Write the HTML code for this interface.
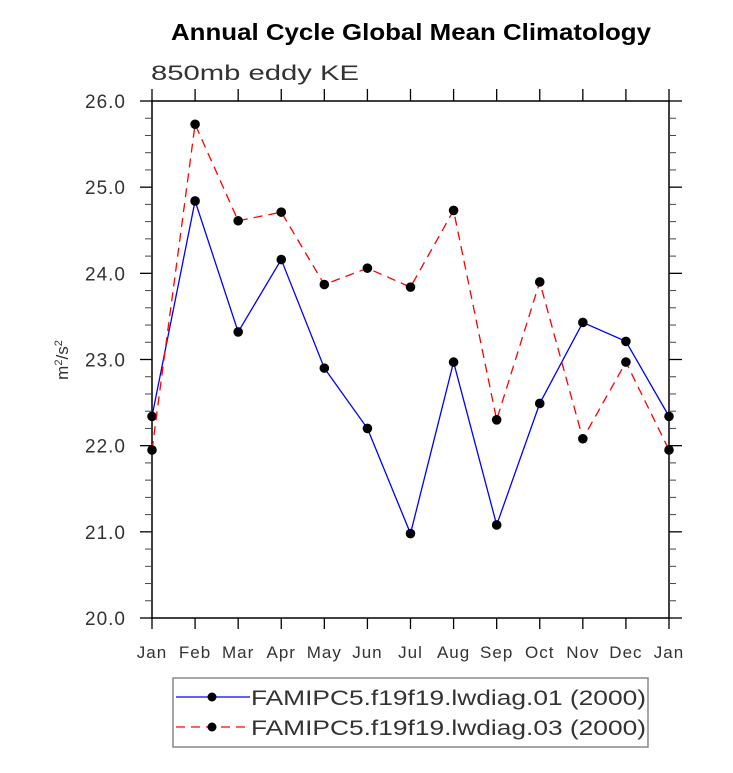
<!DOCTYPE html>
<html><head><meta charset="utf-8"><style>
body{margin:0;background:#fff;}
svg text{font-family:"Liberation Sans",sans-serif;}
</style></head><body>
<svg id="chart" width="733" height="768" xmlns="http://www.w3.org/2000/svg">
<text x="411" y="40" text-anchor="middle" font-size="23" font-weight="bold" textLength="480" lengthAdjust="spacingAndGlyphs">Annual Cycle Global Mean Climatology</text>
<text x="151" y="80" font-size="21" fill="#333" textLength="208" lengthAdjust="spacingAndGlyphs">850mb eddy KE</text>
<g id="axes"></g>
<g id="series"></g>
<g>
<rect x="173" y="678" width="475" height="69" fill="none" stroke="#888" stroke-width="1.5"/>
<g>
<line x1="176" y1="697" x2="250" y2="697" stroke="#0000ff" stroke-width="1.3"/>
<circle cx="212" cy="697" r="4.5" fill="#000"/>
<text x="251" y="705" font-size="21" fill="#333" textLength="395" lengthAdjust="spacingAndGlyphs">FAMIPC5.f19f19.lwdiag.01 (2000)</text>
</g>
<g>
<line x1="176" y1="727" x2="250" y2="727" stroke="#ff0000" stroke-width="1.3" stroke-dasharray="9,6"/>
<circle cx="212" cy="727" r="4.5" fill="#000"/>
<text x="251" y="735" font-size="21" fill="#333" textLength="395" lengthAdjust="spacingAndGlyphs">FAMIPC5.f19f19.lwdiag.03 (2000)</text>
</g>
</g>
</svg>
<script>
const months = ["Jan","Feb","Mar","Apr","May","Jun","Jul","Aug","Sep","Oct","Nov","Dec","Jan"];
const series01 = [22.34,24.84,23.32,24.16,22.90,22.20,20.98,22.97,21.08,22.49,23.43,23.21,22.34];
const series03 = [21.95,25.73,24.61,24.71,23.87,24.06,23.84,24.73,22.30,23.90,22.08,22.97,21.95];
const yTicks = ["20.0","21.0","22.0","23.0","24.0","25.0","26.0"];
const yMin = 20, yMax = 26;
const L=152,R=669,T=101,B=618;
const NS="http://www.w3.org/2000/svg";
const xs=i=>L+(R-L)*i/(months.length-1);
const ys=v=>B-(B-T)*(v-yMin)/(yMax-yMin);
function mk(tag,attrs,parent){const e=document.createElementNS(NS,tag);for(const k in attrs)e.setAttribute(k,attrs[k]);parent.appendChild(e);return e;}
const ax=document.getElementById('axes');
const frame=mk('rect',{x:L,y:T,width:R-L,height:B-T,fill:'none',stroke:'#000','stroke-width':1.5},ax);


months.forEach((m,i)=>{
  const x=xs(i);
  mk('line',{x1:x,y1:T,x2:x,y2:T-12,stroke:'#000','stroke-width':1.3},ax);
  mk('line',{x1:x,y1:B,x2:x,y2:B+11,stroke:'#000','stroke-width':1.3},ax);
  const t=mk('text',{x:x,y:B+40,'text-anchor':'middle','font-size':17,fill:'#333','letter-spacing':'1'},ax);
  t.textContent=m;
  
  
});
yTicks.forEach((lab,i)=>{
  const v=parseFloat(lab),y=ys(v);
  mk('line',{x1:L-12,y1:y,x2:L,y2:y,stroke:'#000','stroke-width':1.3},ax);
  mk('line',{x1:R,y1:y,x2:R+13,y2:y,stroke:'#000','stroke-width':1.3},ax);
  const t=mk('text',{x:L-26,y:y+7,'text-anchor':'end','font-size':19,fill:'#333','letter-spacing':'1'},ax);
  t.textContent=lab;
  
  
  if(i<yTicks.length-1){for(let k=1;k<5;k++){const yy=ys(v+k*0.2);
    mk('line',{x1:L-7,y1:yy,x2:L,y2:yy,stroke:'#444','stroke-width':1},ax);
    mk('line',{x1:R,y1:yy,x2:R+7,y2:yy,stroke:'#444','stroke-width':1},ax);}}
});
const yt=mk('text',{x:0,y:0,'font-size':17,fill:'#333',transform:'translate(68,360) rotate(-90)','text-anchor':'middle'},ax);
yt.innerHTML='m<tspan dy="-6" font-size="11">2</tspan><tspan dy="6">/s</tspan><tspan dy="-6" font-size="11">2</tspan>';


const sg=document.getElementById('series');
function draw(vals,color,dash,name){
  const p=mk('polyline',{points:vals.map((v,i)=>xs(i)+','+ys(v)).join(' '),fill:'none',stroke:color,'stroke-width':1.3,'stroke-dasharray':dash},sg);
  
  
  vals.forEach((v,i)=>{const c=mk('circle',{cx:xs(i),cy:ys(v),r:4.8,fill:'#000'},sg);
    
    });
}
draw(series01,'#0000ff','none','series-01');
draw(series03,'#ff0000','9,6','series-03');
</script>
</body></html>
